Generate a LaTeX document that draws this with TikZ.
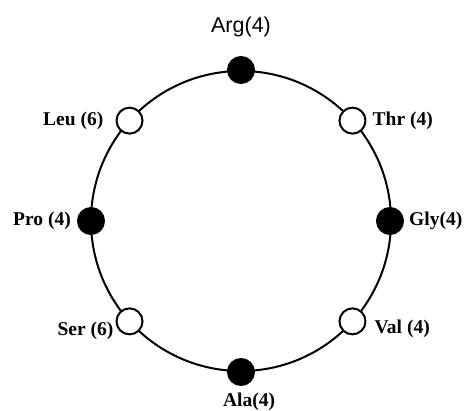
\documentclass[tikz,border=0pt]{standalone}
\usepackage{fontspec}
\setmainfont{Liberation Serif}
\setsansfont{Liberation Sans}
\usetikzlibrary{positioning}

\begin{document}
\begin{tikzpicture}[
  x=1pt, y=1pt,
  every node/.style={font=\fontsize{19.5}{21}\selectfont\bfseries},
  site/.style={circle, draw=black, line width=2pt, minimum size=26pt, inner sep=0pt},
  opensite/.style={site, fill=white},
  fullsite/.style={site, fill=black},
  ring/.style={line width=2pt},
  tag/.style={inner sep=0pt},
  toptag/.style={inner sep=0pt, font=\fontsize{21.5}{24}\sffamily}
]
\useasboundingbox (0,0) rectangle (468,410);

% the ring
\coordinate (ctr) at (241,189);
\draw[ring] (ctr) circle (150);

% sites on the ring
\node[fullsite] (arg) at ([shift={(90:151)}]ctr) {};
\node[opensite] (thr) at ([shift={(42:150)}]ctr) {};
\node[fullsite] (gly) at ([shift={(0:149)}]ctr) {};
\node[opensite] (val) at ([shift={(318:150)}]ctr) {};
\node[fullsite] (ala) at ([shift={(270:151)}]ctr) {};
\node[opensite] (ser) at ([shift={(222:150)}]ctr) {};
\node[fullsite] (pro) at ([shift={(180:150)}]ctr) {};
\node[opensite] (leu) at ([shift={(138:150)}]ctr) {};

% labels
\node[toptag, above=19pt of arg] (argtag) {Arg(4)};
\node[tag, right=6pt of thr] (thrtag) {Thr (4)};
\node[tag, right=5pt of gly] (glytag) {Gly(4)};
\node[tag, right=8pt of val, yshift=-7pt] (valtag) {Val (4)};
\node[tag, below=7pt of ala, xshift=8pt] (alatag) {Ala(4)};
\node[tag, left=2pt of ser, yshift=-9pt] (sertag) {Ser (6)};
\node[tag, left=6pt of pro] (protag) {Pro (4)};
\node[tag, left=12pt of leu] (leutag) {Leu (6)};

\end{tikzpicture}
\end{document}
